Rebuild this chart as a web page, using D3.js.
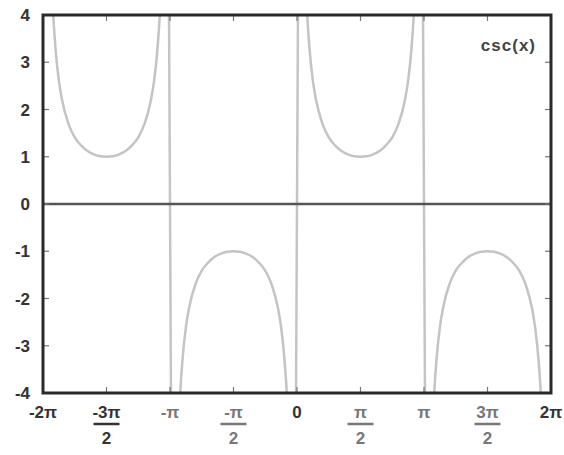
<!DOCTYPE html>
<head>
	<script src="https://d3js.org/d3.v7.min.js"></script>
	<style type="text/css">
		body { margin: 0; background: #fff; }
		svg { display: block; }
	</style>
</head>
<body>
	<div id="chart"></div>
</body>
<script>

	var width = 564;
	var height = 455;
	var margin = { left: 43, right: 13, top: 15, bottom: 62 };

	// x offsets inside one branch, in units of pi, and the csc values
	var branchOffsets = [0.03, 0.05, 0.07, 0.08, 0.1, 0.125, 0.15, 0.2, 0.25, 0.3, 0.35, 0.4, 0.45, 0.5,
		0.55, 0.6, 0.65, 0.7, 0.75, 0.8, 0.85, 0.875, 0.9, 0.92, 0.93, 0.95, 0.97];
	var branchValues = [10.6, 6.39, 4.58, 4.02, 3.24, 2.61, 2.20, 1.70, 1.41, 1.24, 1.12, 1.05, 1.01, 1.00,
		1.01, 1.05, 1.12, 1.24, 1.41, 1.70, 2.20, 2.61, 3.24, 4.02, 4.58, 6.39, 10.6];
	// branch starts (in units of pi) and the sign of csc on that branch
	var branchStarts = [-2, -1, 0, 1];
	var branchSigns = [1, -1, 1, -1];

	var yTicks = [-4, -3, -2, -1, 0, 1, 2, 3, 4];
	var xTicks = [-2, -1.5, -1, -0.5, 0, 0.5, 1, 1.5, 2];
	var xLabels = [
		{ num: "-2\u03c0", den: null, dark: true },
		{ num: "-3\u03c0", den: "2", dark: true },
		{ num: "-\u03c0", den: null, dark: false },
		{ num: "-\u03c0", den: "2", dark: false },
		{ num: "0", den: null, dark: true },
		{ num: "\u03c0", den: "2", dark: false },
		{ num: "\u03c0", den: null, dark: false },
		{ num: "3\u03c0", den: "2", dark: false },
		{ num: "2\u03c0", den: null, dark: true }
	];

	var data = [];
	branchStarts.forEach(function (s, i) {
		branchOffsets.forEach(function (o, j) {
			data.push({ x: s + o, y: branchSigns[i] * branchValues[j] });
		});
	});

	var svg = d3.select("#chart").append("svg")
		.attr("width", width)
		.attr("height", height);

	var x = d3.scaleLinear()
		.domain([-2, 2])
		.range([margin.left, width - margin.right]);

	var y = d3.scaleLinear()
		.domain([-4, 4])
		.range([height - margin.bottom, margin.top]);

	svg.append("clipPath").attr("id", "plot")
		.append("rect")
		.attr("x", x(-2)).attr("y", y(4))
		.attr("width", x(2) - x(-2)).attr("height", y(-4) - y(4));

	// curve
	var line = d3.line()
		.x(d => x(d.x))
		.y(d => y(d.y))
		.curve(d3.curveMonotoneX);

	svg.append("path")
		.datum(data)
		.attr("clip-path", "url(#plot)")
		.attr("fill", "none")
		.attr("stroke", "#c4c4c4")
		.attr("stroke-width", 2.5)
		.attr("d", line);

	// zero line
	svg.append("line")
		.attr("x1", x(-2)).attr("x2", x(2))
		.attr("y1", y(0)).attr("y2", y(0))
		.attr("stroke", "#555")
		.attr("stroke-width", 2.5);

	// ticks on all four sides, pointing inwards
	var ticksG = svg.append("g").attr("stroke", "#777").attr("stroke-width", 1.2);
	yTicks.forEach(function (t) {
		ticksG.append("line").attr("x1", x(-2)).attr("x2", x(-2) + 6).attr("y1", y(t)).attr("y2", y(t));
		ticksG.append("line").attr("x1", x(2)).attr("x2", x(2) - 6).attr("y1", y(t)).attr("y2", y(t));
	});
	xTicks.forEach(function (t) {
		ticksG.append("line").attr("x1", x(t)).attr("x2", x(t)).attr("y1", y(-4)).attr("y2", y(-4) - 6);
		ticksG.append("line").attr("x1", x(t)).attr("x2", x(t)).attr("y1", y(4)).attr("y2", y(4) + 6);
	});

	// border
	svg.append("rect")
		.attr("x", x(-2)).attr("y", y(4))
		.attr("width", x(2) - x(-2)).attr("height", y(-4) - y(4))
		.attr("fill", "none")
		.attr("stroke", "#2a2a2a")
		.attr("stroke-width", 3);

	// y labels
	svg.append("g").selectAll("text")
		.data(yTicks)
		.enter().append("text")
		.attr("x", x(-2) - 13)
		.attr("y", d => y(d) + 6)
		.attr("text-anchor", "end")
		.attr("font-family", "Liberation Sans, Arial, sans-serif")
		.attr("font-size", 17)
		.attr("font-weight", "bold")
		.attr("fill", "#333")
		.text(d => d);

	// x labels, fractions stacked
	var xl = svg.append("g")
		.attr("font-family", "Liberation Sans, Arial, sans-serif")
		.attr("font-size", 17)
		.attr("font-weight", "bold")
		.attr("text-anchor", "middle");
	xTicks.forEach(function (t, i) {
		var lab = xLabels[i];
		var col = lab.dark ? "#333" : "#777";
		var cx = x(t);
		xl.append("text").attr("x", cx).attr("y", y(-4) + 25).attr("fill", col).text(lab.num);
		if (lab.den) {
			xl.append("line")
				.attr("x1", cx - 13).attr("x2", cx + 13)
				.attr("y1", y(-4) + 31).attr("y2", y(-4) + 31)
				.attr("stroke", col).attr("stroke-width", 2.5);
			xl.append("text").attr("x", cx).attr("y", y(-4) + 51).attr("fill", col).text(lab.den);
		}
	});

	// key
	svg.append("text")
		.attr("x", x(2) - 15)
		.attr("y", y(4) + 36)
		.attr("text-anchor", "end")
		.attr("font-family", "Liberation Sans, Arial, sans-serif")
		.attr("font-size", 17)
		.attr("font-weight", "bold")
		.attr("letter-spacing", 1)
		.attr("fill", "#444")
		.text("csc(x)");

</script>
